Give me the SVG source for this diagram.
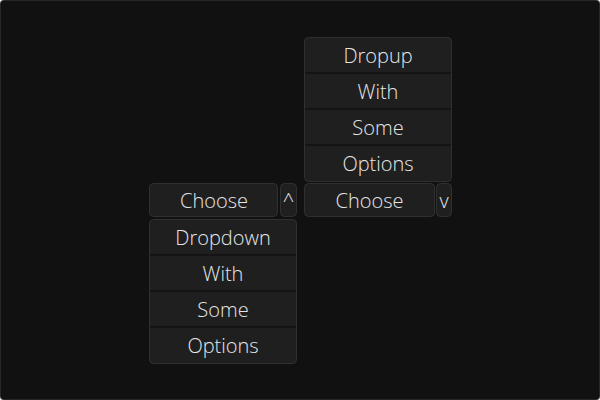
<svg xmlns="http://www.w3.org/2000/svg" width="600" height="400" viewBox="0 0 600 400">
<style>
.bg{fill:#111111;stroke:#262626;stroke-width:1}
.btn{fill:#1f1f1f;stroke:#303030;stroke-width:1}
.sep{stroke:#141414;stroke-width:2}
text{font-family:"Open Sans","Noto Sans",sans-serif;font-size:20px;font-weight:300;fill:#e6e6e6;text-anchor:middle}
</style>
<rect class="bg" x="0.5" y="0.5" width="599" height="399" rx="3"/>
<g id="dropdown-left">
  <g id="choose-left">
    <rect class="btn" x="149.5" y="183.5" width="128" height="33" rx="4"/>
    <text x="214" y="208">Choose</text>
  </g>
  <g id="toggle-left">
    <rect class="btn" x="280.5" y="183.5" width="16" height="33" rx="4"/>
    <text x="288.5" y="208">^</text>
  </g>
  <g id="menu-left">
    <rect class="btn" x="149.5" y="219.5" width="147" height="144" rx="4"/>
    <line class="sep" x1="150" y1="255" x2="296" y2="255"/>
    <line class="sep" x1="150" y1="291" x2="296" y2="291"/>
    <line class="sep" x1="150" y1="327" x2="296" y2="327"/>
    <text x="223" y="245">Dropdown</text>
    <text x="223" y="281">With</text>
    <text x="223" y="317">Some</text>
    <text x="223" y="353">Options</text>
  </g>
</g>
<g id="dropup-right">
  <g id="menu-right">
    <rect class="btn" x="304.5" y="37.5" width="147" height="144" rx="4"/>
    <line class="sep" x1="305" y1="73" x2="451" y2="73"/>
    <line class="sep" x1="305" y1="109" x2="451" y2="109"/>
    <line class="sep" x1="305" y1="145" x2="451" y2="145"/>
    <text x="378" y="63">Dropup</text>
    <text x="378" y="99">With</text>
    <text x="378" y="135">Some</text>
    <text x="378" y="171">Options</text>
  </g>
  <g id="choose-right">
    <rect class="btn" x="304.5" y="183.5" width="130" height="33" rx="4"/>
    <text x="369.5" y="208">Choose</text>
  </g>
  <g id="toggle-right">
    <rect class="btn" x="436.5" y="183.5" width="15" height="33" rx="4"/>
    <text x="444" y="208">v</text>
  </g>
</g>
<g id="connectors"></g>
</svg>
